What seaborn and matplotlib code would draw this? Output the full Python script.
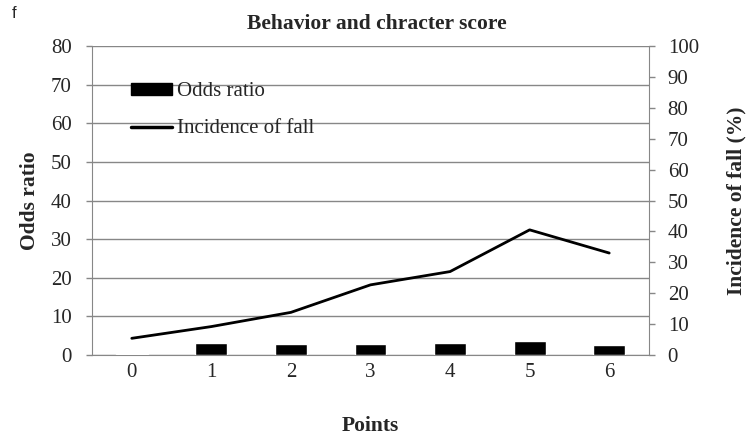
import matplotlib
matplotlib.use("Agg")
import matplotlib.pyplot as plt
import seaborn as sns
import pandas as pd
from matplotlib.patches import Patch
from matplotlib.lines import Line2D

points = ["0", "1", "2", "3", "4", "5", "6"]
odds_ratio = [0.3, 3.2, 2.8, 2.85, 3.0, 3.7, 2.5]
incidence = [5.4, 9.2, 13.8, 22.7, 27.0, 40.5, 33.0]
bar_colors = ["#c8c8c8", "black", "black", "black", "black", "black", "black"]

sns.set_style("white")
plt.rcParams["font.family"] = ["Liberation Serif", "DejaVu Serif"]

df = pd.DataFrame({"points": points, "odds": odds_ratio, "inc": incidence})

fig = plt.figure(figsize=(7.53, 4.38), dpi=100)
ax = fig.add_axes([92 / 753, 83 / 438, 557 / 753, 309 / 438])
grid_c = "#878787"
fs = 15

sns.barplot(data=df, x="points", y="odds", hue="points", palette=bar_colors,
            legend=False, width=0.40, ax=ax, zorder=3, saturation=1)
ax.set_ylim(0, 80)
ax.set_yticks(range(0, 81, 10))
ax.set_xlim(-0.5, 6.5)
ax.yaxis.grid(True, color=grid_c, linewidth=1)
ax.set_axisbelow(True)
ax.set_xticks([i - 0.5 for i in range(8)], minor=False)
ax.set_xticklabels([])
ax.set_xticks(range(7), minor=True)
ax.set_xticklabels(points, minor=True)
ax.tick_params(axis="x", which="major", length=5, color=grid_c, width=1, direction="out")
ax.tick_params(axis="x", which="minor", length=0, labelsize=fs, pad=6)
ax.tick_params(axis="y", length=4.5, color=grid_c, width=1, labelsize=fs,
               direction="out", pad=10)
for s in ["top", "right"]:
    ax.spines[s].set_visible(False)
for s in ["left", "bottom"]:
    ax.spines[s].set_color(grid_c)
ax.set_xlabel("Points", fontsize=15.5, fontweight="bold", labelpad=24)
ax.set_ylabel("Odds ratio", fontsize=15.5, fontweight="bold", labelpad=8)

ax2 = ax.twinx()
sns.lineplot(x=list(range(7)), y=incidence, color="black", linewidth=2, ax=ax2)
ax2.set_ylim(0, 100)
ax2.set_yticks(range(0, 101, 10))
ax2.tick_params(axis="y", length=4.5, color=grid_c, width=1, labelsize=fs,
                direction="out", pad=9)
for s in ["top", "left", "bottom"]:
    ax2.spines[s].set_visible(False)
ax2.spines["right"].set_color(grid_c)
ax2.set_ylabel("Incidence of fall (%)", fontsize=15.5, fontweight="bold", labelpad=20)

handles = [Patch(facecolor="black", edgecolor="black"),
           Line2D([0], [0], color="black", linewidth=2.5)]
ax.legend(handles, ["Odds ratio", "Incidence of fall"], loc="upper left",
          bbox_to_anchor=(0.070, 0.883), frameon=False, fontsize=fs,
          handlelength=1.97, handleheight=0.48, handletextpad=0.24,
          labelspacing=0.88, borderaxespad=0, borderpad=0)

fig.text(0.5, 1 - 29 / 438, "Behavior and chracter score", ha="center",
         va="baseline", fontsize=15.5, fontweight="bold")
fig.text(12 / 753, 1 - 14 / 438, "f", ha="left", va="center", fontsize=12,
         family=["Liberation Sans", "DejaVu Sans"])

fig.savefig("out.png", dpi=100)
